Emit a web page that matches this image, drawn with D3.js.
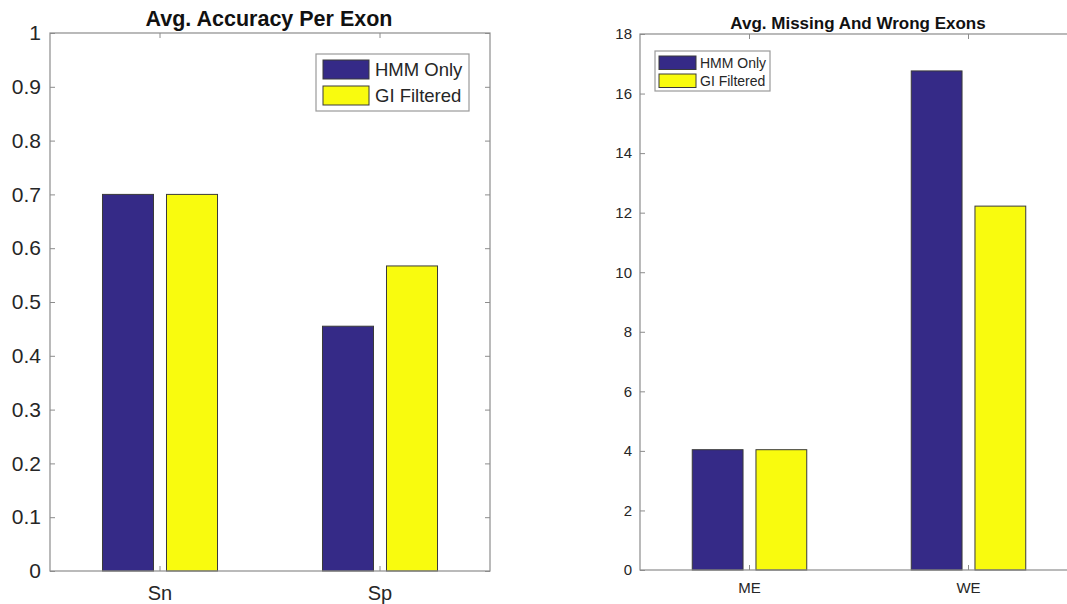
<!DOCTYPE html>
<html>
<head>
<meta charset="utf-8">
<script src="https://cdn.jsdelivr.net/npm/d3@7"></script>
<style>
  html, body { margin: 0; padding: 0; background: #fff; overflow: hidden; }
  svg { display: block; font-family: "Liberation Sans", Arial, Helvetica, sans-serif; }
</style>
</head>
<body>
<svg id="chart" width="1067" height="604"></svg>
<script>
// Series shared by both panels
const seriesNames = ["HMM Only", "GI Filtered"];
const seriesColors = ["#352a87", "#f9fb0e"];

// Panel A: average accuracy per exon
const categoriesA = ["Sn", "Sp"];
const hmmA = [0.70, 0.455];
const giA = [0.70, 0.567];
const yTicksA = [0, 0.1, 0.2, 0.3, 0.4, 0.5, 0.6, 0.7, 0.8, 0.9, 1];

// Panel B: average missing and wrong exons
const categoriesB = ["ME", "WE"];
const hmmB = [4.04, 16.76];
const giB = [4.04, 12.22];
const yTicksB = [0, 2, 4, 6, 8, 10, 12, 14, 16, 18];

const svg = d3.select("#chart");
const axisColor = "#8c8c8c";
const textColor = "#262626";

function drawPanel(cfg) {
  const { left, top, width, height } = cfg;
  const g = svg.append("g").attr("transform", `translate(${left},${top})`);

  const y = d3.scaleLinear().domain([0, cfg.yMax]).range([height, 0]);
  const x0 = d3.scaleBand().domain(cfg.categories).range([0, width]).padding(0);
  const bw = x0.bandwidth();
  const x1 = d3.scaleBand().domain(seriesNames)
    .range([-0.2614 * bw, 0.2614 * bw]).paddingInner(0.203);

  const rows = cfg.categories.map((c, i) => ({
    cat: c,
    values: [cfg.hmm[i], cfg.gi[i]]
  }));

  // bars
  const groups = g.selectAll("g.grp").data(rows).join("g")
    .attr("class", "grp")
    .attr("transform", d => `translate(${x0(d.cat) + bw / 2},0)`);
  groups.selectAll("rect").data(d => d.values.map((v, k) => ({ v, k }))).join("rect")
    .attr("x", d => x1(seriesNames[d.k]))
    .attr("width", x1.bandwidth())
    .attr("y", d => y(d.v))
    .attr("height", d => y(0) - y(d.v))
    .attr("fill", d => seriesColors[d.k])
    .attr("stroke", "#3a3a3a")
    .attr("stroke-width", 1);

  // axes with inward ticks on all four sides
  const fmt = cfg.fmt;
  const yl = g.append("g").call(d3.axisLeft(y).tickValues(cfg.yTicks).tickFormat(fmt)
    .tickSizeInner(-5).tickSizeOuter(0).tickPadding(cfg.yPad));
  const yr = g.append("g").attr("transform", `translate(${width},0)`)
    .call(d3.axisRight(y).tickValues(cfg.yTicks).tickFormat("")
      .tickSizeInner(-5).tickSizeOuter(0));
  const xb = g.append("g").attr("transform", `translate(0,${height})`)
    .call(d3.axisBottom(x0).tickSizeInner(-5).tickSizeOuter(0).tickPadding(cfg.xPad));
  const xt = g.append("g")
    .call(d3.axisTop(x0).tickFormat("").tickSizeInner(-5).tickSizeOuter(0));

  [yl, yr, xb, xt].forEach(a => {
    a.select(".domain").remove();
    a.selectAll(".tick line").attr("stroke", axisColor);
    a.selectAll("text").attr("fill", textColor).attr("font-family", null);
  });
  yl.selectAll("text").attr("font-size", cfg.tickFont);
  xb.selectAll("text").attr("font-size", cfg.catFont);

  // axes box
  g.append("rect")
    .attr("x", 0).attr("y", 0).attr("width", width).attr("height", height)
    .attr("fill", "none").attr("stroke", axisColor).attr("stroke-width", 1.2);

  // title
  g.append("text")
    .attr("x", width / 2 + cfg.titleDx).attr("y", cfg.titleY)
    .attr("text-anchor", "middle")
    .attr("font-weight", "bold")
    .attr("font-size", cfg.titleFont)
    .attr("fill", "#111")
    .text(cfg.title);

  // legend
  const L = cfg.legend;
  const lg = g.append("g").attr("transform", `translate(${L.x},${L.y})`);
  lg.append("rect")
    .attr("width", L.w).attr("height", L.h)
    .attr("fill", "#fff").attr("stroke", "#9a9a9a").attr("stroke-width", 1.2);
  seriesNames.forEach((name, k) => {
    lg.append("rect")
      .attr("x", L.sx).attr("y", L.sy + k * L.step)
      .attr("width", L.sw).attr("height", L.sh)
      .attr("fill", seriesColors[k]).attr("stroke", "#3a3a3a").attr("stroke-width", 1);
    lg.append("text")
      .attr("x", L.tx).attr("y", L.sy + k * L.step + L.sh / 2)
      .attr("dy", "0.36em")
      .attr("font-size", L.font)
      .attr("fill", textColor)
      .text(name);
  });
}

drawPanel({
  left: 50, top: 33, width: 440, height: 538,
  categories: categoriesA, hmm: hmmA, gi: giA,
  yMax: 1, yTicks: yTicksA, fmt: d3.format("~g"),
  yPad: 9, xPad: 15, tickFont: 21, catFont: 20,
  title: "Avg. Accuracy Per Exon", titleFont: 21.5, titleY: -7, titleDx: -1,
  legend: { x: 266, y: 21, w: 153, h: 57, sx: 7, sy: 6, sw: 46, sh: 19, step: 26, tx: 59, font: 18.5 }
});

drawPanel({
  left: 640, top: 34, width: 438, height: 536,
  categories: categoriesB, hmm: hmmB, gi: giB,
  yMax: 18, yTicks: yTicksB, fmt: d3.format("~g"),
  yPad: 8, xPad: 12, tickFont: 15, catFont: 15,
  title: "Avg. Missing And Wrong Exons", titleFont: 17, titleY: -5, titleDx: -1,
  legend: { x: 15, y: 17, w: 115, h: 40, sx: 4, sy: 5, sw: 37, sh: 13.5, step: 18, tx: 45, font: 14 }
});
</script>
</body>
</html>
